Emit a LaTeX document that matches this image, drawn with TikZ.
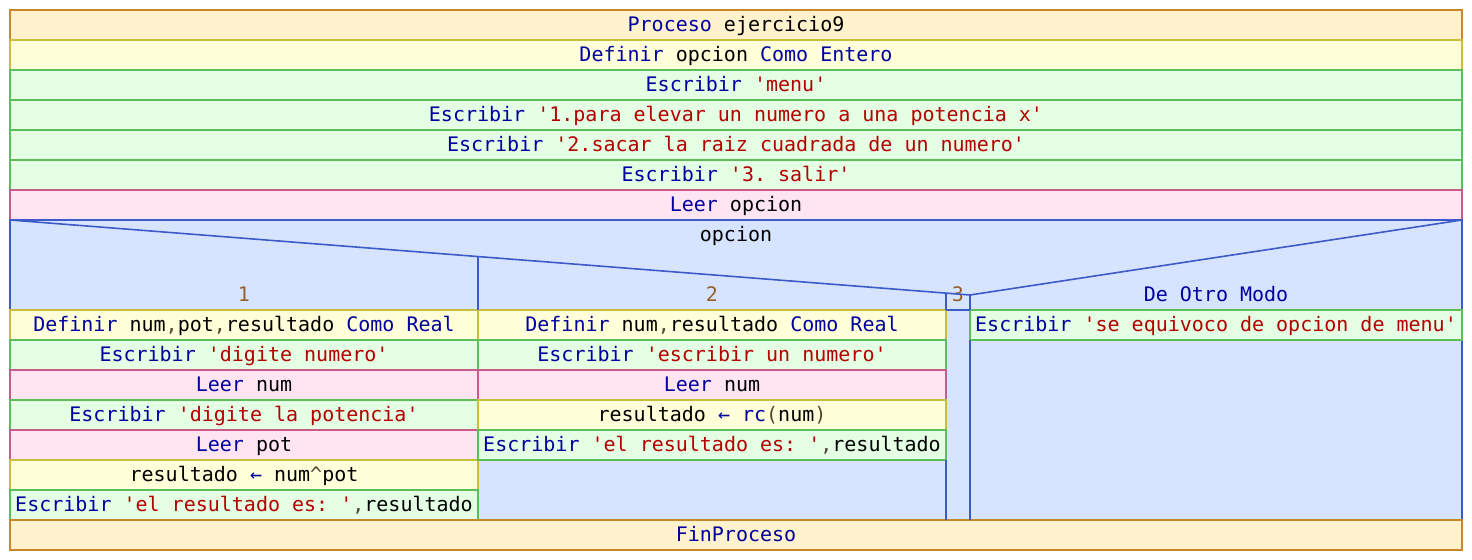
\documentclass[tikz,border=0pt]{standalone}
\usepackage{fontspec}
\setmonofont{DejaVu Sans Mono}
\usepackage{tikz}
\usetikzlibrary{positioning,calc}
\usepackage{xcolor}

\definecolor{procline}{RGB}{200,135,42}
\definecolor{procfill}{RGB}{255,242,204}
\definecolor{defline}{RGB}{200,190,60}
\definecolor{deffill}{RGB}{255,255,217}
\definecolor{escline}{RGB}{90,190,90}
\definecolor{escfill}{RGB}{228,255,228}
\definecolor{leerline}{RGB}{200,90,140}
\definecolor{leerfill}{RGB}{255,228,242}
\definecolor{segline}{RGB}{60,90,200}
\definecolor{segfill}{RGB}{215,228,255}
\definecolor{kwblue}{RGB}{0,0,160}
\definecolor{cadred}{RGB}{180,0,0}
\definecolor{punct}{RGB}{80,70,50}
\definecolor{etqbrown}{RGB}{150,96,42}

\newcommand{\kw}[1]{\textcolor{kwblue}{#1}}
\newcommand{\cad}[1]{\textcolor{cadred}{#1}}
\newcommand{\pun}[1]{\textcolor{punct}{#1}}

\begin{document}
\begin{tikzpicture}[
font=\ttfamily,
caja/.style={rectangle, line width=0.8pt, outer sep=0pt, inner sep=0pt, minimum height=15pt, text height=8.4pt, text depth=2.2pt},
cajaproceso/.style={caja, draw=procline, fill=procfill, minimum width=726pt},
cajadefinir/.style={caja, draw=defline, fill=deffill},
cajaescribir/.style={caja, draw=escline, fill=escfill},
cajaleer/.style={caja, draw=leerline, fill=leerfill},
cajasegun/.style={caja, draw=segline, fill=segfill, minimum width=726pt, minimum height=150pt},
etiqueta/.style={rectangle, outer sep=0pt, inner sep=0pt, minimum height=15pt, text height=8.4pt, text depth=2.2pt, text=etqbrown},
lineasegun/.style={draw=segline, line width=0.8pt},
]
\useasboundingbox (-5pt,5pt) rectangle (731pt,-275pt);

%Nodes
%%% Cabecera
\node[cajaproceso, anchor=north west] (proceso) at (0,0) {\kw{Proceso} ejercicio9};
\node[cajadefinir, minimum width=726pt] (definir) [below=0pt of proceso] {\kw{Definir} opcion \kw{Como Entero}};
\node[cajaescribir, minimum width=726pt] (menu) [below=0pt of definir] {\kw{Escribir} \cad{'menu'}};
\node[cajaescribir, minimum width=726pt] (opUno) [below=0pt of menu] {\kw{Escribir} \cad{'1.para elevar un numero a una potencia x'}};
\node[cajaescribir, minimum width=726pt] (opDos) [below=0pt of opUno] {\kw{Escribir} \cad{'2.sacar la raiz cuadrada de un numero'}};
\node[cajaescribir, minimum width=726pt] (opTres) [below=0pt of opDos] {\kw{Escribir} \cad{'3. salir'}};
\node[cajaleer, minimum width=726pt] (leer) [below=0pt of opTres] {\kw{Leer} opcion};

%%% Segun
\node[cajasegun] (segun) [below=0pt of leer] {};
\node[etiqueta, anchor=north, text=black] (condicion) at (segun.north) {opcion};
\coordinate (vertice) at ([shift={(480pt,-37.5pt)}]segun.north west);

%%%% Caso 1
\node[cajadefinir, minimum width=234pt, anchor=north west] (definirUno) at ([yshift=-45pt]segun.north west) {\kw{Definir} num\pun{,}pot\pun{,}resultado \kw{Como Real}};
\node[cajaescribir, minimum width=234pt] (escribirUno) [below=0pt of definirUno] {\kw{Escribir} \cad{'digite numero'}};
\node[cajaleer, minimum width=234pt] (leerUno) [below=0pt of escribirUno] {\kw{Leer} num};
\node[cajaescribir, minimum width=234pt] (escribirDos) [below=0pt of leerUno] {\kw{Escribir} \cad{'digite la potencia'}};
\node[cajaleer, minimum width=234pt] (leerDos) [below=0pt of escribirDos] {\kw{Leer} pot};
\node[cajadefinir, minimum width=234pt] (asignarUno) [below=0pt of leerDos] {resultado \kw{←} num\pun{\textasciicircum}pot};
\node[cajaescribir, minimum width=234pt] (escribirTres) [below=0pt of asignarUno] {\kw{Escribir} \cad{'el resultado es: '}\pun{,}resultado};

%%%% Caso 2
\node[cajadefinir, minimum width=234pt] (definirDos) [right=0pt of definirUno] {\kw{Definir} num\pun{,}resultado \kw{Como Real}};
\node[cajaescribir, minimum width=234pt] (escribirCuatro) [below=0pt of definirDos] {\kw{Escribir} \cad{'escribir un numero'}};
\node[cajaleer, minimum width=234pt] (leerTres) [below=0pt of escribirCuatro] {\kw{Leer} num};
\node[cajadefinir, minimum width=234pt] (asignarDos) [below=0pt of leerTres] {resultado \kw{←} \kw{rc}\pun{(}num\pun{)}};
\node[cajaescribir, minimum width=234pt] (escribirCinco) [below=0pt of asignarDos] {\kw{Escribir} \cad{'el resultado es: '}\pun{,}resultado};

%%%% De Otro Modo
\node[cajaescribir, minimum width=246pt] (escribirOtro) [right=12pt of definirDos] {\kw{Escribir} \cad{'se equivoco de opcion de menu'}};

%%%% Etiquetas de los casos
\node[etiqueta] (casoUno) [above=0pt of definirUno] {1};
\node[etiqueta] (casoDos) [above=0pt of definirDos] {2};
\node[etiqueta, anchor=south] (casoTres) at ($(definirDos.north east)!0.5!(escribirOtro.north west)$) {3};
\node[etiqueta] (casoOtro) [above=0pt of escribirOtro] {\kw{De Otro Modo}};

%%% Fin
\node[cajaproceso] (fin) [below=0pt of segun] {\kw{FinProceso}};

%Lines
%%% Diagonales
\draw[lineasegun] (segun.north west) -- (vertice) -- (segun.north east);

%%% Separadores
\draw[lineasegun] ($(segun.north west)!0.4875!(vertice)$) -- (definirUno.north east);
\draw[lineasegun] ($(segun.north west)!0.975!(vertice)$) -- (definirDos.north east);
\draw[lineasegun] (escribirCinco.south east) -- (escribirCinco.south east |- fin.north);
\draw[lineasegun] (definirDos.north east) -- (escribirOtro.north west);
\draw[lineasegun] (vertice) -- (escribirOtro.north west);
\draw[lineasegun] (escribirOtro.south west) -- (escribirOtro.south west |- fin.north);

\end{tikzpicture}
\end{document}
